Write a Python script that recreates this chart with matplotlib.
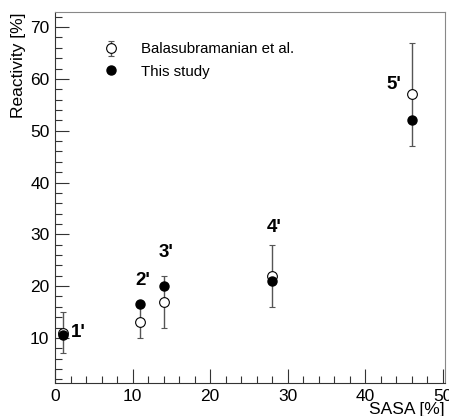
import numpy as np
import matplotlib.pyplot as plt
from matplotlib.ticker import MultipleLocator

plt.rcParams['font.family'] = ['Liberation Sans', 'DejaVu Sans']

# Данные
sasa = [1, 11, 14, 28, 46]
lit_react = [11, 13, 17, 22, 57]
lit_err = [4, 3, 5, 6, 10]
this_react = [10.5, 16.5, 20, 21, 52]
labels = ["1'", "2'", "3'", "4'", "5'"]
label_x = [3.0, 11.3, 14.3, 28.3, 43.7]
label_y = [11.0, 21.0, 26.5, 31.3, 59.0]

fig = plt.figure(figsize=(4.49, 4.16), dpi=100)
ax = fig.add_axes([0.1225, 0.0793, 0.8685, 0.8917])

lit = ax.errorbar(sasa, lit_react, yerr=lit_err, fmt='o', mfc='white', mec='black',
                  mew=0.8, ms=7, ecolor='#555555', elinewidth=1.0, capsize=2.5,
                  capthick=1.0, zorder=3)
ours, = ax.plot(sasa, this_react, 'o', color='black', ms=6.5, zorder=4)

for lx, ly, t in zip(label_x, label_y, labels):
    ax.text(lx, ly, t, fontsize=13.5, fontweight='bold', ha='center', va='center')

ax.set_xlim(0, 50.3)
ax.set_ylim(1.3, 72.9)

ax.xaxis.set_major_locator(MultipleLocator(10))
ax.xaxis.set_minor_locator(MultipleLocator(2))
ax.yaxis.set_major_locator(MultipleLocator(10))
ax.yaxis.set_minor_locator(MultipleLocator(2))
ax.tick_params(which='both', direction='in', top=False, right=False,
               labelsize=12.5, color='#333333', width=0.8)
ax.tick_params(which='major', length=10, pad=4)
ax.tick_params(which='minor', length=5)

for s in ['top', 'right']:
    ax.spines[s].set_color('#888888')
    ax.spines[s].set_linewidth(0.8)
for s in ['left', 'bottom']:
    ax.spines[s].set_color('#333333')
    ax.spines[s].set_linewidth(0.8)

ax.set_ylabel('Reactivity [%]', fontsize=12.5, loc='top', labelpad=3)
ax.set_xlabel('SASA [%]', fontsize=12.5, loc='right', labelpad=-1)

ax.legend([lit, ours], ['Balasubramanian et al.', 'This study'],
          loc='upper left', bbox_to_anchor=(0.07, 0.955), frameon=False,
          fontsize=10.8, handletextpad=1.0, labelspacing=0.55)

fig.savefig('out.png', dpi=100)
